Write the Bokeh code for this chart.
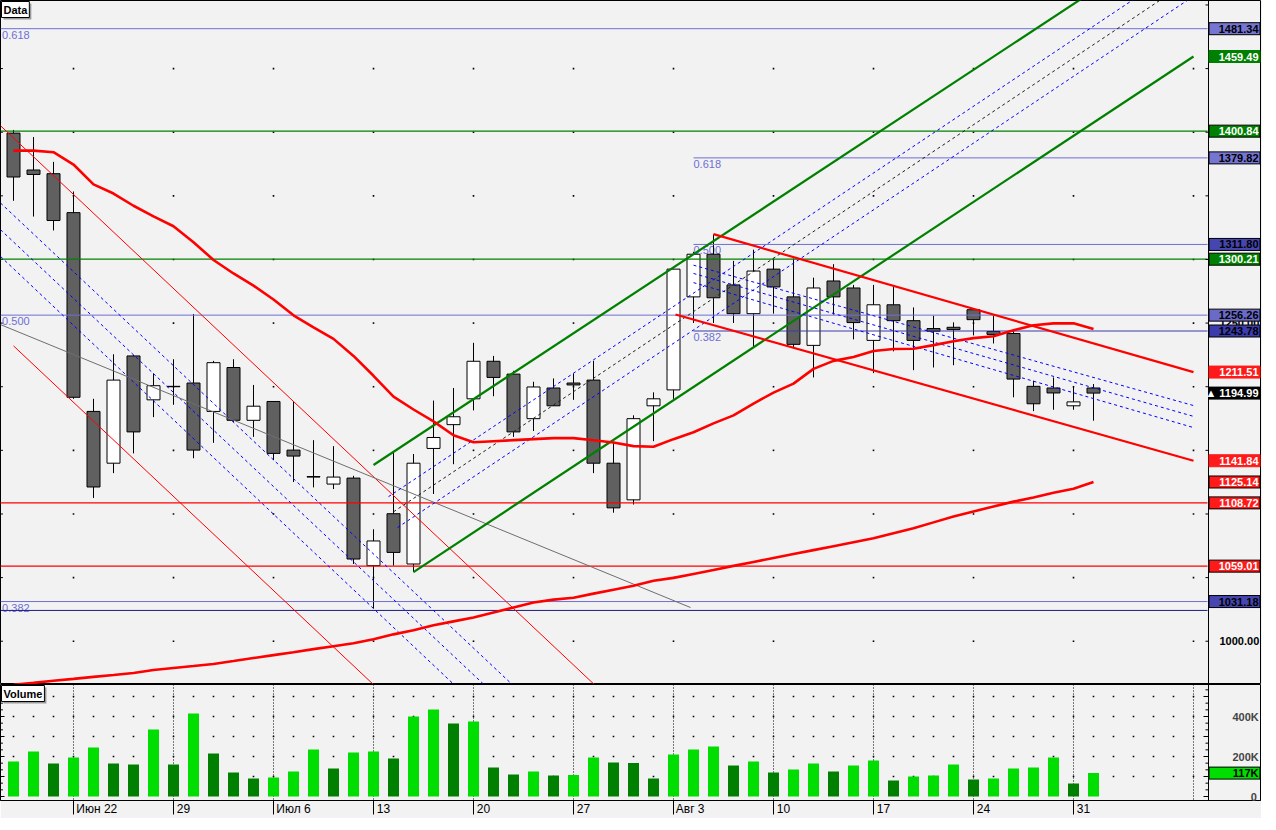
from bokeh.plotting import figure
from bokeh.models import Range1d, FixedTicker, Label, Span, ColumnDataSource
from bokeh.layouts import column
from bokeh.embed import file_html
from bokeh.resources import INLINE
from bokeh.core.properties import value

# ---------------- data ----------------
open_p = [1399.3, 1370.3, 1367.4, 1336.8, 1180.6, 1139.9, 1224.2, 1189.7, 1200.3, 1202.9,
          1180.6, 1215.1, 1173.6, 1188.4, 1150.2, 1129.4, 1123.5, 1128.2, 1059.4, 1100.2,
          1060.7, 1151.5, 1170.2, 1190.5, 1220.0, 1209.9, 1174.9, 1199.0, 1202.9, 1205.2,
          1139.9, 1111.1, 1185.0, 1197.5, 1270.6, 1304.1, 1280.0, 1257.4, 1292.4, 1270.6,
          1232.5, 1283.1, 1277.6, 1236.4, 1264.4, 1251.9, 1245.7, 1246.7, 1260.5, 1243.4,
          1241.8, 1200.3, 1199.0, 1185.0, 1199.0]
high_p = [1401.8, 1396.2, 1376.7, 1353.4, 1190.5, 1225.5, 1224.9, 1210.4, 1221.6, 1257.1,
          1220.3, 1221.6, 1201.4, 1188.4, 1188.4, 1158.0, 1153.3, 1130.0, 1088.0, 1148.9,
          1147.1, 1189.1, 1199.0, 1234.5, 1224.2, 1212.5, 1203.9, 1206.5, 1210.4, 1220.3,
          1156.7, 1177.5, 1195.6, 1292.4, 1306.0, 1319.7, 1298.9, 1307.7, 1300.2, 1300.7,
          1285.7, 1296.3, 1280.0, 1280.0, 1278.6, 1262.3, 1255.8, 1250.6, 1261.0, 1255.8,
          1243.6, 1204.7, 1207.3, 1200.6, 1202.1]
low_p = [1346.1, 1333.7, 1322.8, 1190.5, 1112.6, 1132.1, 1147.6, 1176.1, 1185.8, 1143.8,
         1155.9, 1172.3, 1160.6, 1142.4, 1125.1, 1120.9, 1119.6, 1060.7, 1025.7, 1059.4,
         1054.3, 1115.7, 1139.1, 1181.4, 1192.5, 1160.6, 1165.2, 1185.0, 1189.7, 1132.1,
         1101.0, 1107.4, 1157.2, 1190.5, 1250.1, 1250.1, 1250.1, 1231.4, 1257.4, 1231.0,
         1207.3, 1256.6, 1237.2, 1210.7, 1227.8, 1213.0, 1215.1, 1216.9, 1240.3, 1234.0,
         1191.7, 1180.8, 1181.9, 1181.9, 1173.3]
close_p = [1364.8, 1366.8, 1330.6, 1191.7, 1121.2, 1205.2, 1164.5, 1200.8, 1200.0, 1150.2,
           1218.9, 1173.6, 1184.7, 1147.6, 1145.5, 1129.0, 1129.0, 1064.6, 1078.8, 1069.8,
           1139.9, 1160.1, 1176.4, 1220.0, 1207.3, 1164.5, 1199.8, 1185.0, 1201.4, 1139.9,
           1104.8, 1174.9, 1190.5, 1292.4, 1304.1, 1269.9, 1257.4, 1290.9, 1278.4, 1233.3,
           1277.6, 1270.6, 1250.4, 1264.4, 1251.9, 1236.4, 1243.6, 1244.9, 1252.7, 1241.1,
           1206.0, 1186.6, 1195.1, 1188.1, 1194.99]
volume = [175000, 225000, 165000, 195000, 245000, 165000, 160000, 335000, 160000, 415000,
          215000, 120000, 90000, 95000, 125000, 235000, 140000, 220000, 225000, 190000,
          400000, 435000, 365000, 375000, 145000, 110000, 125000, 105000, 108000, 195000,
          170000, 168000, 90000, 210000, 235000, 250000, 155000, 175000, 120000, 135000,
          165000, 125000, 155000, 180000, 80000, 100000, 105000, 160000, 85000, 90000,
          140000, 145000, 195000, 65000, 117000]
ma_fast = [1385.5, 1385.5, 1384.3, 1374.6, 1359.0, 1351.8, 1342.2, 1333.9, 1326.1, 1313.6,
           1299.6, 1289.0, 1279.4, 1268.5, 1256.1, 1246.7, 1237.6, 1224.2, 1208.6, 1192.2,
           1182.1, 1172.8, 1161.9, 1156.4, 1157.2, 1158.0, 1158.8, 1159.6, 1159.6, 1158.0,
           1156.2, 1153.3, 1152.8, 1158.8, 1164.2, 1171.2, 1177.5, 1186.8, 1195.4, 1202.4,
           1214.0, 1220.3, 1223.4, 1228.1, 1229.6, 1229.8, 1232.7, 1235.8, 1238.2, 1239.7,
           1244.4, 1248.3, 1249.8, 1249.8, 1245.4]
ma_slow = [965.8, 967.3, 968.9, 970.4, 972.0, 973.5, 975.1, 977.4, 979.0, 980.5,
           982.1, 984.4, 986.8, 989.1, 991.4, 993.8, 996.1, 998.4, 1001.6, 1005.4,
           1008.6, 1012.5, 1015.6, 1018.7, 1022.6, 1026.5, 1030.4, 1032.7, 1034.2, 1037.4,
           1040.5, 1043.6, 1047.5, 1049.8, 1052.9, 1056.0, 1059.2, 1062.3, 1065.4, 1068.5,
           1071.6, 1074.7, 1077.8, 1080.9, 1084.8, 1088.7, 1093.4, 1098.1, 1102.0, 1105.9,
           1109.7, 1112.9, 1116.7, 1119.9, 1125.1]

week_idx = [3, 8, 13, 18, 23, 28, 33, 38, 43, 48, 53]
week_labels = ["Июн 22", "29", "Июл 6", "13", "20", "27", "Авг 3", "10", "17", "24", "31"]
future_idx = 59

fib_full_levels = [1481.34, 1256.26, 1031.18]
fib_full_names = ["0.618", "0.500", "0.382"]
fib_part_levels = [1379.82, 1311.80, 1243.78]
fib_part_names = ["0.618", "0.500", "0.382"]
fib_part_start = 34
extra_level = [1024.2]
green_levels = [1400.84, 1300.21]
red_levels = [1108.72, 1059.01]

june_x0 = [-0.65, -0.65, -0.65, -0.65, 0.0]
june_y0 = [1405.1, 1344.4, 1323.4, 1302.4, 1232.1]
june_x1 = [29.2, 25.05, 23.6, 22.15, 18.0]
june_y1 = [963.6, 964.3, 964.8, 964.1, 965.9]
grey_x = [-0.65, 33.85]
grey_y = [1248.8, 1026.5]
up_x0 = [18.0, 20.0, 18.75, 19.0, 19.2]
up_y0 = [1138.5, 1054.3, 1113.6, 1101.7, 1089.3]
up_x1 = [59.7, 59.0, 59.7, 59.7, 59.7]
up_y1 = [1570.1, 1459.49, 1543.1, 1528.6, 1514.2]
dn_x0 = [35.0, 33.1, 34.0, 34.0, 34.0]
dn_y0 = [1319.9, 1256.8, 1295.5, 1289.0, 1281.8]
dn_x1 = [59.0, 59.0, 59.0, 59.0, 59.0]
dn_y1 = [1211.51, 1141.84, 1185.2, 1176.7, 1167.9]

tag_values = [1481.34, 1459.49, 1400.84, 1379.82, 1311.80, 1300.21, 1256.26, 1243.78,
              1211.51, 1194.99, 1141.84, 1125.14, 1108.72, 1059.01, 1031.18]
last_price = 1194.99
last_volume = 117000

# ---------------- styling / layout ----------------
BG = "#f2f2f2"
FIB_C = "#6e6ed6"
NAVY = "#3a3aa6"
FW, FH1, FH2 = 1260, 684, 116
NB = "\u00a0"
FONT = "Liberation Sans"
AX = 59.75            # x of the price scale line (data units)
TAG_C, TAG_W = 61.05, 2.55
TXT_R = 62.25

xr = Range1d(-0.65, -0.65 + FW / 20.0)


def base_fig(fh, yr):
    f = figure(frame_width=FW, frame_height=fh, x_range=xr, y_range=yr,
               output_backend="svg", toolbar_location=None, title=None,
               y_axis_location="right",
               min_border_left=0, min_border_top=0, min_border_bottom=0, min_border_right=0,
               background_fill_color=BG, border_fill_color=BG, outline_line_color="black")
    f.grid.visible = False
    return f


p1 = base_fig(FH1, Range1d(966.0, 1503.5))
p1.xaxis.visible = False
price_ticks = list(range(1000, 1501, 50))
ya = p1.yaxis[0]
ya.ticker = FixedTicker(ticks=price_ticks)
ya.major_label_overrides = {t: (f"{t:.2f}" if t in (1000, 1250) else "") for t in price_ticks}
ya.major_tick_in = 0
ya.major_tick_out = 0
ya.minor_tick_in = 0
ya.minor_tick_out = 0
ya.major_label_standoff = -41
ya.major_label_text_font = FONT
ya.major_label_text_font_style = "bold"
ya.major_label_text_font_size = "11px"
ya.major_label_text_color = "black"
ya.axis_line_color = None

n = len(open_p)
idx = list(range(n))

# dotted grid points
gx, gy = [], []
for xv in week_idx + [future_idx]:
    for yv in range(1000, 1500, 50):
        gx.append(xv)
        gy.append(yv)
p1.scatter(gx, gy, marker="square", size=1.6, color="black", line_width=0)

# left border ticks
p1.segment(x0=[xr.start] * len(price_ticks), y0=price_ticks,
           x1=[xr.start + 0.12] * len(price_ticks), y1=price_ticks, line_color="black", line_width=1)

# fib texts
x_left = xr.start + 0.08
p1.text(x=[x_left] * 3, y=fib_full_levels, text=fib_full_names, text_color=FIB_C,
        text_font=value(FONT), text_font_size="11px", text_baseline="top", y_offset=2)
p1.text(x=[fib_part_start] * 3, y=fib_part_levels, text=fib_part_names, text_color=FIB_C,
        text_font=value(FONT), text_font_size="11px", text_baseline="top", y_offset=2)

# candles
src = ColumnDataSource(dict(
    x=idx,
    top=[max(o, c) for o, c in zip(open_p, close_p)],
    bottom=[min(o, c) for o, c in zip(open_p, close_p)],
    high=high_p, low=low_p,
    fill=["white" if c > o else "#606060" for o, c in zip(open_p, close_p)],
))
p1.segment(x0="x", y0="low", x1="x", y1="high", source=src, line_color="black", line_width=1)
p1.vbar(x="x", width=0.65, top="top", bottom="bottom", fill_color="fill",
        line_color="black", line_width=1, source=src)

# horizontal levels
x_end = 59.7
for lv in fib_full_levels:
    p1.segment(x0=[xr.start], y0=[lv], x1=[x_end], y1=[lv], line_color=FIB_C, line_width=1)
for lv in fib_part_levels[:2]:
    p1.segment(x0=[fib_part_start], y0=[lv], x1=[x_end], y1=[lv], line_color=FIB_C, line_width=1)
p1.segment(x0=[fib_part_start], y0=[fib_part_levels[2]], x1=[x_end], y1=[fib_part_levels[2]],
           line_color=NAVY, line_width=1.2)
p1.segment(x0=[xr.start], y0=extra_level, x1=[x_end], y1=extra_level, line_color="#1a1a80", line_width=1)
for lv in green_levels:
    p1.segment(x0=[xr.start], y0=[lv], x1=[x_end], y1=[lv], line_color="#008000", line_width=1.2)
for lv in red_levels:
    p1.segment(x0=[xr.start], y0=[lv], x1=[x_end], y1=[lv], line_color="#ff0000", line_width=1.2)

# June channel
p1.segment(x0=[june_x0[0], june_x0[4]], y0=[june_y0[0], june_y0[4]],
           x1=[june_x1[0], june_x1[4]], y1=[june_y1[0], june_y1[4]], line_color="#ff0000", line_width=1)
p1.segment(x0=june_x0[1:4], y0=june_y0[1:4], x1=june_x1[1:4], y1=june_y1[1:4],
           line_color="#0000ff", line_width=1, line_dash="3 3")
p1.line(grey_x, grey_y, line_color="#6e6e6e", line_width=1)

# rising channel
p1.segment(x0=up_x0[:2], y0=up_y0[:2], x1=up_x1[:2], y1=up_y1[:2], line_color="#008000", line_width=2.2)
p1.segment(x0=[up_x0[2], up_x0[4]], y0=[up_y0[2], up_y0[4]], x1=[up_x1[2], up_x1[4]],
           y1=[up_y1[2], up_y1[4]], line_color="#0000ff", line_width=1, line_dash="3 3")
p1.segment(x0=[up_x0[3]], y0=[up_y0[3]], x1=[up_x1[3]], y1=[up_y1[3]],
           line_color="#202020", line_width=1, line_dash="3 3")

# falling channel
p1.segment(x0=dn_x0[:2], y0=dn_y0[:2], x1=dn_x1[:2], y1=dn_y1[:2], line_color="#ff0000", line_width=2.2)
p1.segment(x0=dn_x0[2:], y0=dn_y0[2:], x1=dn_x1[2:], y1=dn_y1[2:],
           line_color="#0000ff", line_width=1, line_dash="3 3")

# moving averages
p1.line(idx, ma_fast, line_color="#ff0000", line_width=2.6)
p1.line(idx, ma_slow, line_color="#ff0000", line_width=2.6)

# price scale line + ticks
p1.add_layout(Span(location=AX, dimension="height", line_color="black", line_width=1))
p1.segment(x0=[AX - 0.15] * len(price_ticks), y0=price_ticks, x1=[AX] * len(price_ticks),
           y1=price_ticks, line_color="black", line_width=1)

# value tags
blue_l, blue_d = "#7575d2", "#4646b2"
tag_bg = [blue_l, "#008000", "#008000", blue_l, blue_d, "#008000", "#6a6ac8", "#3c3cac",
          "#ff1a1a", "#000000", "#ff1a1a", "#ff1a1a", "#ff1a1a", "#ff1a1a", blue_d]
tag_fg = ["black", "white", "white", "black", "black", "white", "black", "black",
          "white", "white", "white", "white", "white", "white", "black"]
tag_border = ["black", "#008000", "black", "black", "black", "black", "black", "black",
              "#ff1a1a", "black", "#ff1a1a", "black", "black", "black", "black"]
tag_text = [("▲ " + f"{v:.2f}") if v == last_price else f"{v:.2f}" for v in tag_values]
tsrc = ColumnDataSource(dict(y=tag_values, bg=tag_bg, fg=tag_fg, bd=tag_border, t=tag_text,
                             x=[TAG_C] * len(tag_values), xt=[TXT_R] * len(tag_values)))
p1.rect(x="x", y="y", width=TAG_W, height=12, height_units="screen", fill_color="bg",
        line_color="bd", line_width=1, source=tsrc, level="overlay")
p1.text(x="xt", y="y", text="t", text_color="fg", text_align="right", text_baseline="middle",
        text_font=value(FONT), text_font_style="bold", text_font_size="11px",
        source=tsrc, level="overlay")

# panel title
p1.add_layout(Label(x=3, y=FH1 - 3, x_units="screen", y_units="screen", text="Data",
                    text_baseline="top", text_color="#9a9a9a", text_font=FONT,
                    text_font_style="bold", text_font_size="11px",
                    background_fill_color="#9a9a9a", padding=2))
p1.add_layout(Label(x=1, y=FH1 - 1, x_units="screen", y_units="screen", text="Data",
                    text_baseline="top", text_color="black", text_font=FONT,
                    text_font_style="bold", text_font_size="11px",
                    background_fill_color="white", border_line_color="black", padding=2))

# ---------------- volume panel ----------------
p2 = base_fig(FH2, Range1d(-20000, 560000))

vol_ticks = [0, 100000, 200000, 300000, 400000, 500000]
va = p2.yaxis[0]
va.ticker = FixedTicker(ticks=vol_ticks)
va.major_label_overrides = {0: NB * 6 + "0", 100000: "", 200000: "200K", 300000: "",
                            400000: "400K", 500000: ""}
va.major_tick_in = 0
va.major_tick_out = 0
va.minor_tick_in = 0
va.minor_tick_out = 0
va.major_label_standoff = -28
va.major_label_text_font = FONT
va.major_label_text_font_style = "bold"
va.major_label_text_font_size = "11px"
va.axis_line_color = None


def text_w(s, size):
    cw = {'И': 0.722, 'ю': 0.757, 'н': 0.545, 'л': 0.545, 'А': 0.667, 'в': 0.531,
          'г': 0.365, ' ': 0.278}
    return sum(cw.get(ch, 0.556) for ch in s) * size


def pad_left(s, size, gap=3):
    k = int(round((text_w(s, size) + 2 * gap) / (0.278 * size)))
    return NB * k + s


xa = p2.xaxis[0]
xa.ticker = FixedTicker(ticks=week_idx)
xa.major_label_overrides = {t: pad_left(l, 12) for t, l in zip(week_idx, week_labels)}
xa.major_tick_out = 14
xa.major_tick_in = 0
xa.minor_tick_out = 0
xa.minor_tick_in = 0
xa.major_label_standoff = -13
xa.major_label_text_font = FONT
xa.major_label_text_font_size = "12px"
xa.major_label_text_color = "black"
xa.axis_line_color = "black"

for xv in week_idx + [future_idx]:
    p2.add_layout(Span(location=xv, dimension="height", line_color="black",
                       line_width=1, line_dash="1 2", level="underlay"))

vx, vy = [], []
for xv in range(0, future_idx + 1):
    for yv in [100000, 200000, 300000, 400000, 500000]:
        vx.append(xv)
        vy.append(yv)
p2.scatter(vx, vy, marker="square", size=1.6, color="black", line_width=0)

vol_colors = ["#00dd00" if (i == 0 or volume[i] > volume[i - 1]) else "#008000" for i in idx]
p2.vbar(x=idx, top=volume, bottom=0, width=0.55, fill_color=vol_colors, line_color=None)

# volume scale line + ticks (right and left rulers)
p2.add_layout(Span(location=AX, dimension="height", line_color="black", line_width=1))
vmajor = [v for v in range(0, 560001, 100000)]
vminor = [k * 100000 / 3 for k in range(0, 17) if k % 3]
p2.segment(x0=[AX - 0.25] * len(vmajor), y0=vmajor, x1=[AX] * len(vmajor), y1=vmajor,
           line_color="black", line_width=1)
p2.segment(x0=[AX - 0.15] * len(vminor), y0=vminor, x1=[AX] * len(vminor), y1=vminor,
           line_color="black", line_width=1)
p2.segment(x0=[xr.start] * len(vmajor), y0=vmajor, x1=[xr.start + 0.2] * len(vmajor), y1=vmajor,
           line_color="black", line_width=1)
p2.segment(x0=[xr.start] * len(vminor), y0=vminor, x1=[xr.start + 0.12] * len(vminor), y1=vminor,
           line_color="black", line_width=1)

vsrc = ColumnDataSource(dict(x=[TAG_C], xt=[TXT_R], y=[last_volume],
                             t=[f"{last_volume // 1000}K"]))
p2.rect(x="x", y="y", width=TAG_W, height=12, height_units="screen", fill_color="#00dd00",
        line_color="black", line_width=1, source=vsrc, level="overlay")
p2.text(x="xt", y="y", text="t", text_color="black", text_align="right", text_baseline="middle",
        text_font=value(FONT), text_font_style="bold", text_font_size="11px",
        source=vsrc, level="overlay")

p2.add_layout(Label(x=3, y=FH2 - 3, x_units="screen", y_units="screen", text="Volume",
                    text_baseline="top", text_color="#9a9a9a", text_font=FONT,
                    text_font_style="bold", text_font_size="11px",
                    background_fill_color="#9a9a9a", padding=2))
p2.add_layout(Label(x=1, y=FH2 - 1, x_units="screen", y_units="screen", text="Volume",
                    text_baseline="top", text_color="black", text_font=FONT,
                    text_font_style="bold", text_font_size="11px",
                    background_fill_color="white", border_line_color="black", padding=2))

layout = column(p1, p2, spacing=0)
open("out.html", "w").write(file_html(layout, INLINE))
